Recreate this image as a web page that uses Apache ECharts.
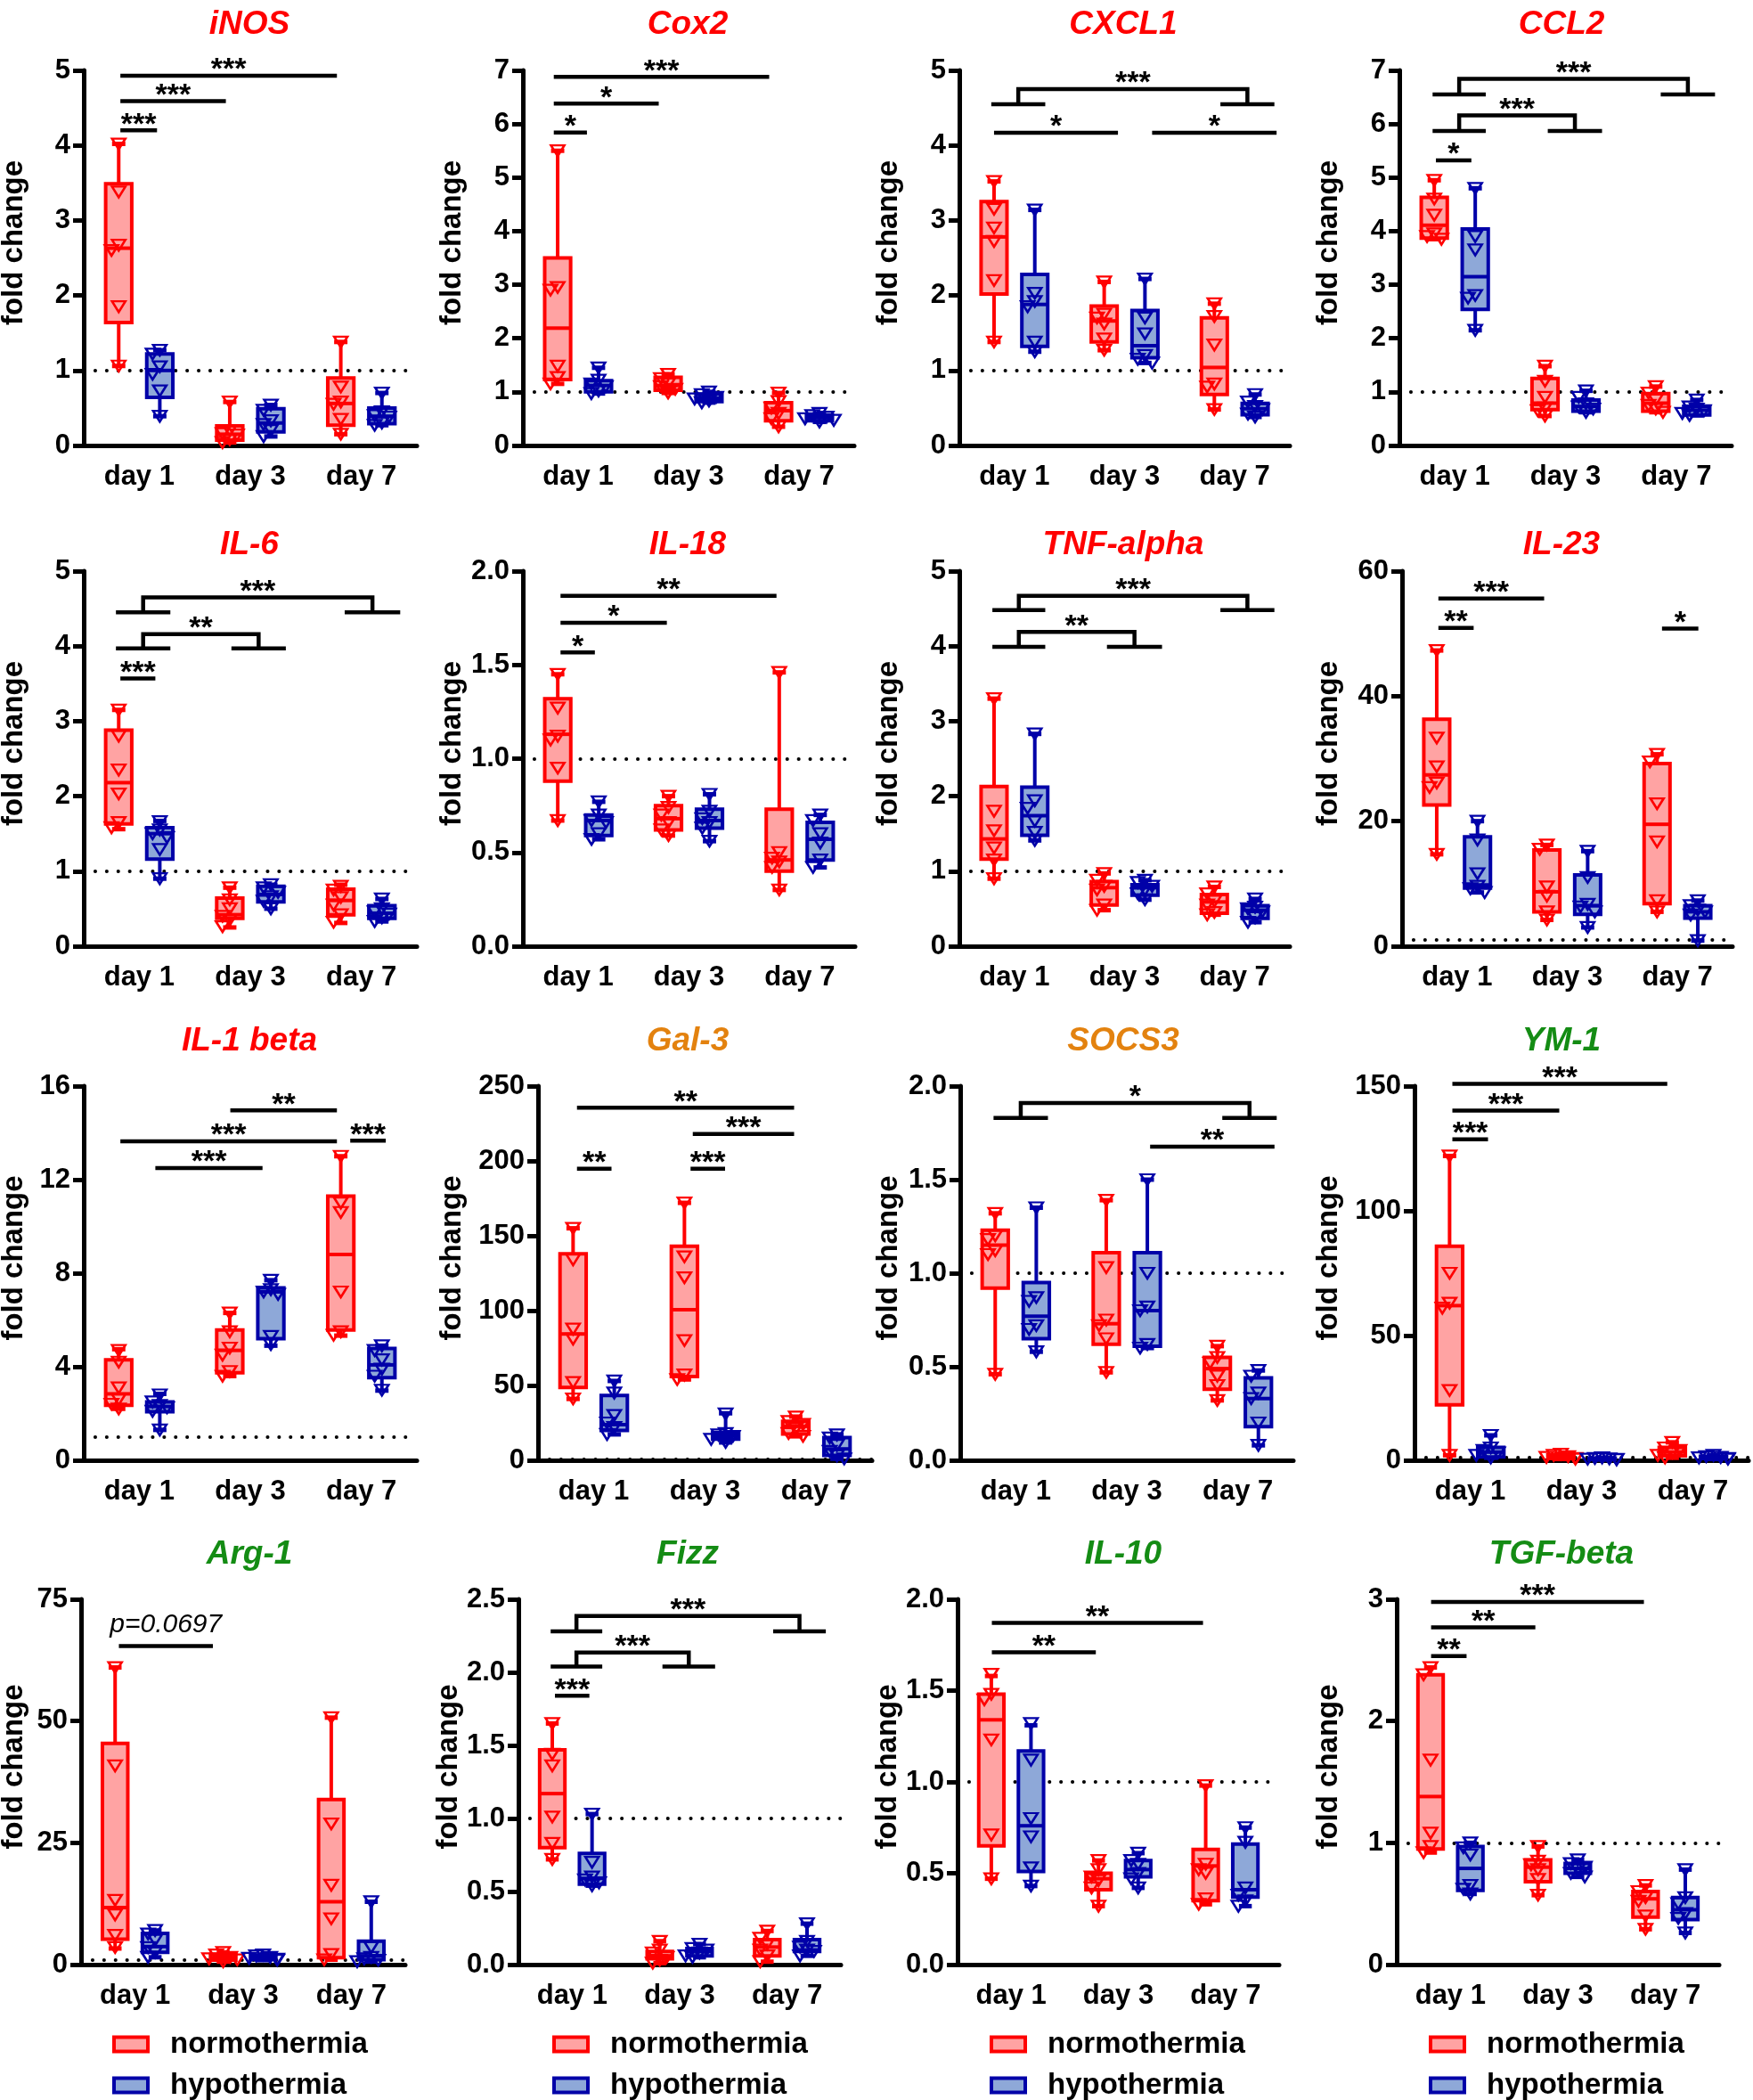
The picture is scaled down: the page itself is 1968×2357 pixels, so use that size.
<!DOCTYPE html>
<html>
<head>
<meta charset="utf-8">
<title>fold change - normothermia vs hypothermia</title>
<script src="https://cdn.jsdelivr.net/npm/echarts@6/dist/echarts.min.js"></script>
<style>
  html, body { margin: 0; padding: 0; background: #fff; }
  #chart { width: 1968px; height: 2357px; }
</style>
</head>
<body>
<div id="chart"></div>
<script>
var days = ['day 1', 'day 3', 'day 7']
var groups = ['normothermia', 'hypothermia']

// box rows are [min, Q1, median, Q3, max] for day 1, day 3, day 7
// point rows are the single animals of that day

// iNOS
var iNOSTicks = [0, 1, 2, 3, 4, 5]
var iNOSNormBox = [[1.06, 1.64, 2.63, 3.49, 4.02], [0.04, 0.07, 0.15, 0.26, 0.58], [0.15, 0.27, 0.56, 0.9, 1.38]]
var iNOSHypoBox = [[0.39, 0.64, 1.0, 1.22, 1.27], [0.12, 0.18, 0.3, 0.49, 0.54], [0.27, 0.29, 0.39, 0.5, 0.7]]
var iNOSNormPts = [[4.02, 3.38, 2.67, 2.6, 1.85, 1.06], [0.58, 0.2, 0.16, 0.14, 0.08, 0.04], [1.38, 0.78, 0.58, 0.55, 0.35, 0.15]]
var iNOSHypoPts = [[1.27, 1.22, 1.05, 0.95, 0.73, 0.39], [0.54, 0.47, 0.33, 0.28, 0.2, 0.12], [0.7, 0.45, 0.4, 0.38, 0.3, 0.27]]
var iNOSSig = [
    {x: [-0.17, 0.16], y: 4.2, text: '***'},
    {x: [-0.17, 0.78], y: 4.59, text: '***'},
    {x: [-0.17, 1.78], y: 4.93, text: '***'}
]

// Cox2
var cox2Ticks = [0, 1, 2, 3, 4, 5, 6, 7]
var cox2NormBox = [[1.15, 1.23, 2.19, 3.5, 5.5], [0.98, 1.03, 1.12, 1.27, 1.33], [0.35, 0.46, 0.65, 0.8, 0.98]]
var cox2HypoBox = [[0.97, 1.0, 1.12, 1.21, 1.45], [0.8, 0.82, 0.88, 0.96, 1.0], [0.44, 0.46, 0.52, 0.57, 0.6]]
var cox2NormPts = [[5.5, 2.95, 2.9, 1.48, 1.27, 1.15], [1.33, 1.25, 1.15, 1.1, 1.05, 0.98], [0.98, 0.82, 0.7, 0.6, 0.5, 0.35]]
var cox2HypoPts = [[1.45, 1.22, 1.15, 1.1, 1.02, 0.97], [1.0, 0.95, 0.9, 0.87, 0.83, 0.8], [0.6, 0.56, 0.53, 0.5, 0.47, 0.44]]
var cox2Sig = [
    {x: [-0.22, 0.08], y: 5.84, text: '*'},
    {x: [-0.22, 0.73], y: 6.38, text: '*'},
    {x: [-0.22, 1.73], y: 6.88, text: '***'}
]

// CXCL1
var cxcl1Ticks = [0, 1, 2, 3, 4, 5]
var cxcl1NormBox = [[1.38, 2.02, 2.78, 3.25, 3.52], [1.27, 1.38, 1.66, 1.86, 2.18], [0.48, 0.68, 1.04, 1.7, 1.89]]
var cxcl1HypoBox = [[1.25, 1.32, 1.88, 2.28, 3.14], [1.1, 1.17, 1.33, 1.8, 2.22], [0.38, 0.41, 0.49, 0.56, 0.68]]
var cxcl1NormPts = [[3.52, 3.15, 2.9, 2.72, 2.2, 1.38], [2.18, 1.75, 1.7, 1.62, 1.42, 1.27], [1.89, 1.72, 1.34, 0.82, 0.78, 0.48]]
var cxcl1HypoPts = [[3.14, 2.03, 1.92, 1.85, 1.38, 1.25], [2.22, 1.7, 1.49, 1.2, 1.15, 1.1], [0.68, 0.58, 0.52, 0.48, 0.42, 0.38]]
var cxcl1Sig = [
    {a: [-0.21, 0.28], b: [1.87, 2.36], y: 4.55, top: 4.75, text: '***'},
    {x: [-0.185, 0.94], y: 4.17, text: '*'},
    {x: [1.25, 2.38], y: 4.17, text: '*'}
]

// CCL2
var ccl2Ticks = [0, 1, 2, 3, 4, 5, 6, 7]
var ccl2NormBox = [[3.85, 3.87, 4.11, 4.63, 4.95], [0.55, 0.67, 0.79, 1.25, 1.48], [0.62, 0.64, 0.79, 0.97, 1.1]]
var ccl2HypoBox = [[2.15, 2.54, 3.15, 4.04, 4.8], [0.62, 0.64, 0.73, 0.85, 1.02], [0.56, 0.57, 0.66, 0.73, 0.85]]
var ccl2NormPts = [[4.95, 4.6, 4.3, 3.95, 3.9, 3.85], [1.48, 1.2, 0.9, 0.7, 0.65, 0.55], [1.1, 0.98, 0.85, 0.75, 0.68, 0.62]]
var ccl2HypoPts = [[4.8, 3.9, 3.65, 2.8, 2.75, 2.15], [1.02, 0.9, 0.78, 0.72, 0.68, 0.62], [0.85, 0.72, 0.68, 0.65, 0.6, 0.56]]
var ccl2Sig = [
    {a: [-0.2, 0.28], b: [1.86, 2.35], y: 6.55, top: 6.84, text: '***'},
    {a: [-0.2, 0.28], b: [0.84, 1.33], y: 5.87, top: 6.16, text: '***'},
    {x: [-0.17, 0.15], y: 5.32, text: '*'}
]

// IL-6
var il6Ticks = [0, 1, 2, 3, 4, 5]
var il6NormBox = [[1.56, 1.63, 2.18, 2.88, 3.15], [0.25, 0.37, 0.42, 0.64, 0.78], [0.31, 0.42, 0.61, 0.76, 0.82]]
var il6HypoBox = [[0.9, 1.16, 1.5, 1.58, 1.67], [0.5, 0.59, 0.69, 0.8, 0.82], [0.33, 0.37, 0.44, 0.54, 0.63]]
var il6NormPts = [[3.15, 2.8, 2.35, 2.03, 1.65, 1.58], [0.78, 0.62, 0.5, 0.4, 0.35, 0.26], [0.8, 0.75, 0.65, 0.55, 0.42, 0.32]]
var il6HypoPts = [[1.66, 1.55, 1.5, 1.45, 1.29, 0.9], [0.82, 0.78, 0.72, 0.66, 0.6, 0.5], [0.63, 0.5, 0.46, 0.43, 0.38, 0.33]]
var il6Sig = [
    {a: [-0.21, 0.28], b: [1.85, 2.35], y: 4.45, top: 4.65, text: '***'},
    {a: [-0.21, 0.28], b: [0.83, 1.32], y: 3.97, top: 4.16, text: '**'},
    {x: [-0.17, 0.145], y: 3.57, text: '***'}
]

// IL-18
var il18Ticks = [0, 0.5, 1, 1.5, 2]
var il18NormBox = [[0.67, 0.88, 1.13, 1.32, 1.45], [0.59, 0.62, 0.68, 0.75, 0.8], [0.3, 0.4, 0.46, 0.73, 1.46]]
var il18HypoBox = [[0.57, 0.59, 0.67, 0.7, 0.77], [0.56, 0.63, 0.67, 0.73, 0.81], [0.42, 0.46, 0.57, 0.66, 0.7]]
var il18NormPts = [[1.45, 1.27, 1.12, 1.1, 0.95, 0.67], [0.8, 0.74, 0.7, 0.66, 0.62, 0.59], [1.46, 0.5, 0.47, 0.45, 0.42, 0.3]]
var il18HypoPts = [[0.77, 0.7, 0.67, 0.66, 0.6, 0.57], [0.81, 0.72, 0.68, 0.66, 0.63, 0.56], [0.7, 0.67, 0.6, 0.55, 0.46, 0.42]]
var il18Sig = [
    {x: [-0.16, 0.15], y: 1.567, text: '*'},
    {x: [-0.16, 0.8], y: 1.725, text: '*'},
    {x: [-0.16, 1.79], y: 1.868, text: '**'}
]

// TNF-alpha
var tnfTicks = [0, 1, 2, 3, 4, 5]
var tnfNormBox = [[0.9, 1.16, 1.43, 2.13, 3.3], [0.48, 0.55, 0.78, 0.86, 0.97], [0.42, 0.44, 0.59, 0.69, 0.79]]
var tnfHypoBox = [[1.41, 1.48, 1.74, 2.12, 2.83], [0.62, 0.68, 0.78, 0.82, 0.88], [0.32, 0.37, 0.48, 0.54, 0.63]]
var tnfNormPts = [[3.3, 1.8, 1.54, 1.31, 1.15, 0.9], [0.97, 0.88, 0.8, 0.75, 0.55, 0.48], [0.79, 0.7, 0.6, 0.55, 0.45, 0.42]]
var tnfHypoPts = [[2.83, 1.94, 1.84, 1.67, 1.52, 1.41], [0.88, 0.85, 0.8, 0.75, 0.7, 0.62], [0.63, 0.52, 0.5, 0.46, 0.38, 0.32]]
var tnfSig = [
    {a: [-0.2, 0.28], b: [1.87, 2.36], y: 4.48, top: 4.67, text: '***'},
    {a: [-0.2, 0.28], b: [0.84, 1.34], y: 3.99, top: 4.19, text: '**'}
]

// IL-23
var il23Ticks = [0, 20, 40, 60]
var il23NormBox = [[14.7, 22.6, 27.4, 36.3, 47.3], [4.2, 5.5, 8.7, 15.4, 16.2], [5.5, 6.8, 19.5, 29.2, 30.7]]
var il23HypoBox = [[8.6, 9.3, 9.8, 17.5, 20], [3, 5.1, 6.5, 11.4, 15.2], [0.9, 4.5, 5.5, 6.5, 7.3]]
var il23NormPts = [[47.3, 33.3, 28.7, 26.1, 25.4, 14.7], [16.2, 15.5, 9.5, 8, 5.5, 4.2], [30.7, 29.5, 22.8, 16.7, 7.3, 5.5]]
var il23HypoPts = [[20, 17, 11.6, 9.6, 9.2, 8.6], [15.2, 11, 6.7, 6.3, 5.5, 3], [7.3, 6.5, 5.8, 5.5, 5.0, 0.9]]
var il23Sig = [
    {x: [-0.17, 0.79], y: 55.6, text: '***'},
    {x: [-0.17, 0.15], y: 50.9, text: '**'},
    {x: [1.86, 2.19], y: 50.8, text: '*'}
]

// IL-1 beta
var il1bTicks = [0, 4, 8, 12, 16]
var il1bNormBox = [[2.2, 2.35, 2.84, 4.3, 4.75], [3.6, 3.74, 4.7, 5.57, 6.3], [5.33, 5.57, 8.8, 11.3, 13]]
var il1bHypoBox = [[1.3, 2.08, 2.3, 2.5, 2.84], [4.9, 5.2, 7.2, 7.37, 7.7], [2.98, 3.53, 4.08, 4.78, 4.9]]
var il1bNormPts = [[4.7, 4.2, 3.1, 2.6, 2.4, 2.2], [6.3, 5.5, 4.8, 4.5, 3.8, 3.6], [13, 11, 10.6, 7.2, 5.5, 5.35]]
var il1bHypoPts = [[2.8, 2.5, 2.35, 2.25, 2.1, 1.3], [7.7, 7.3, 7.2, 7.1, 5.3, 4.95], [4.9, 4.7, 4.3, 3.9, 3.6, 3.0]]
var il1bSig = [
    {x: [0.82, 1.78], y: 14.96, text: '**'},
    {x: [-0.17, 1.78], y: 13.64, text: '***'},
    {x: [1.9, 2.22], y: 13.67, text: '***'},
    {x: [0.145, 1.11], y: 12.5, text: '***'}
]

// Gal-3
var gal3Ticks = [0, 50, 100, 150, 200, 250]
var gal3NormBox = [[41, 48.7, 84.4, 138, 155], [54, 56, 100.6, 143, 172], [16, 17.5, 22.7, 26, 29.2]]
var gal3HypoBox = [[17.3, 19.9, 23.8, 43.3, 53], [11.9, 14.1, 16.2, 18.4, 31.4], [1, 3.2, 7.6, 15.2, 17.3]]
var gal3NormPts = [[155, 134, 87.7, 81, 52, 41], [172, 136, 122, 80, 57, 54], [29, 26, 24, 21, 18, 16]]
var gal3HypoPts = [[53, 45, 30, 25, 22, 17.3], [31, 18, 17, 16, 14, 12], [17, 15, 10, 6, 3, 1]]
var gal3Sig = [
    {x: [-0.15, 1.8], y: 235.5, text: '**'},
    {x: [0.89, 1.8], y: 218, text: '***'},
    {x: [-0.15, 0.16], y: 194.8, text: '**'},
    {x: [0.87, 1.18], y: 194.8, text: '***'}
]

// SOCS3
var socs3Ticks = [0, 0.5, 1, 1.5, 2]
var socs3NormBox = [[0.46, 0.92, 1.15, 1.23, 1.32], [0.47, 0.62, 0.73, 1.11, 1.39], [0.32, 0.38, 0.49, 0.55, 0.61]]
var socs3HypoBox = [[0.58, 0.65, 0.77, 0.95, 1.35], [0.6, 0.61, 0.8, 1.11, 1.5], [0.08, 0.18, 0.33, 0.44, 0.48]]
var socs3NormPts = [[1.32, 1.2, 1.18, 1.12, 1.1, 0.46], [1.39, 1.03, 0.75, 0.72, 0.65, 0.47], [0.61, 0.55, 0.52, 0.45, 0.4, 0.32]]
var socs3HypoPts = [[1.35, 0.87, 0.85, 0.72, 0.7, 0.58], [1.5, 1.0, 0.82, 0.8, 0.62, 0.6], [0.48, 0.45, 0.36, 0.33, 0.2, 0.08]]
var socs3Sig = [
    {a: [-0.2, 0.29], b: [1.86, 2.35], y: 1.83, top: 1.91, text: '*'},
    {x: [1.21, 2.33], y: 1.676, text: '**'}
]

// YM-1
var ym1Ticks = [0, 50, 100, 150]
var ym1NormBox = [[2, 22.2, 62, 85.8, 122], [0.5, 0.7, 1.35, 2.1, 2.5], [1, 1.75, 3.3, 5.2, 7.2]]
var ym1HypoBox = [[1, 1.3, 3.3, 5.2, 10], [0.3, 0.38, 0.55, 0.85, 1], [0.5, 0.72, 1.1, 1.6, 2]]
var ym1NormPts = [[122, 75, 63, 61, 28, 2], [2.5, 2, 1.5, 1.2, 0.8, 0.5], [7.2, 5, 4, 3, 2, 1]]
var ym1HypoPts = [[10, 5, 4, 3, 2, 1], [1, 0.8, 0.6, 0.5, 0.4, 0.3], [2, 1.5, 1.2, 1, 0.8, 0.5]]
var ym1Sig = [
    {x: [-0.16, 1.77], y: 150.9, text: '***'},
    {x: [-0.16, 0.8], y: 140.2, text: '***'},
    {x: [-0.16, 0.16], y: 128.7, text: '***'}
]

// Arg-1
var arg1Ticks = [0, 25, 50, 75]
var arg1NormBox = [[3.3, 5.2, 11.7, 45.4, 61], [0.6, 0.9, 1.35, 2.1, 2.5], [1.0, 1.4, 12.9, 33.9, 50.7]]
var arg1HypoBox = [[1.5, 2.5, 3.7, 6.4, 7.0], [0.9, 1.05, 1.4, 1.85, 2], [0.6, 1.0, 1.8, 4.8, 12.9]]
var arg1NormPts = [[61, 40.8, 13.2, 10.2, 6, 3.5], [2.5, 2, 1.5, 1.2, 1, 0.6], [50.7, 28.9, 16.3, 9.4, 2.1, 1.0]]
var arg1HypoPts = [[7, 6.3, 5, 3.5, 2.5, 1.5], [2, 1.8, 1.5, 1.3, 1.1, 0.9], [12.9, 3.5, 1.5, 1.2, 0.9, 0.6]]
var arg1Sig = [
    {x: [-0.15, 0.72], y: 65.4, text: 'p=0.0697', italic: true}
]

// Fizz
var fizzTicks = [0, 0.5, 1, 1.5, 2, 2.5]
var fizzNormBox = [[0.72, 0.8, 1.17, 1.47, 1.65], [0.01, 0.04, 0.06, 0.09, 0.16], [0.02, 0.06, 0.12, 0.17, 0.23]]
var fizzHypoBox = [[0.54, 0.55, 0.59, 0.76, 1.03], [0.05, 0.06, 0.09, 0.11, 0.14], [0.06, 0.09, 0.1, 0.17, 0.28]]
var fizzNormPts = [[1.65, 1.44, 1.36, 1.01, 0.83, 0.72], [0.16, 0.1, 0.08, 0.05, 0.03, 0.01], [0.23, 0.18, 0.14, 0.1, 0.06, 0.02]]
var fizzHypoPts = [[1.03, 0.7, 0.6, 0.58, 0.56, 0.54], [0.14, 0.11, 0.1, 0.08, 0.06, 0.05], [0.28, 0.16, 0.12, 0.1, 0.09, 0.06]]
var fizzSig = [
    {a: [-0.2, 0.28], b: [1.87, 2.36], y: 2.28, top: 2.385, text: '***'},
    {a: [-0.2, 0.28], b: [0.84, 1.33], y: 2.04, top: 2.135, text: '***'},
    {x: [-0.16, 0.16], y: 1.84, text: '***'}
]

// IL-10
var il10Ticks = [0, 0.5, 1, 1.5, 2]
var il10NormBox = [[0.47, 0.65, 1.34, 1.48, 1.58], [0.32, 0.41, 0.47, 0.5, 0.57], [0.33, 0.35, 0.54, 0.63, 0.98]]
var il10HypoBox = [[0.43, 0.51, 0.76, 1.17, 1.31], [0.42, 0.48, 0.52, 0.57, 0.61], [0.32, 0.37, 0.41, 0.66, 0.75]]
var il10NormPts = [[1.59, 1.48, 1.45, 1.23, 0.71, 0.47], [0.57, 0.52, 0.48, 0.46, 0.42, 0.32], [0.98, 0.55, 0.52, 0.5, 0.36, 0.33]]
var il10HypoPts = [[1.32, 1.12, 0.8, 0.7, 0.53, 0.43], [0.61, 0.57, 0.55, 0.5, 0.47, 0.42], [0.75, 0.67, 0.42, 0.38, 0.35, 0.32]]
var il10Sig = [
    {x: [-0.18, 0.79], y: 1.71, text: '**'},
    {x: [-0.18, 1.79], y: 1.871, text: '**'}
]

// TGF-beta
var tgfTicks = [0, 1, 2, 3]
var tgfNormBox = [[0.92, 0.95, 1.38, 2.38, 2.44], [0.57, 0.68, 0.8, 0.86, 0.97], [0.29, 0.39, 0.54, 0.6, 0.65]]
var tgfHypoBox = [[0.58, 0.61, 0.79, 0.97, 1.0], [0.72, 0.75, 0.79, 0.83, 0.86], [0.26, 0.37, 0.45, 0.55, 0.78]]
var tgfNormPts = [[2.44, 2.38, 1.68, 1.08, 0.97, 0.92], [0.97, 0.85, 0.82, 0.78, 0.7, 0.57], [0.65, 0.6, 0.55, 0.52, 0.4, 0.29]]
var tgfHypoPts = [[1.0, 0.96, 0.9, 0.65, 0.62, 0.58], [0.86, 0.83, 0.8, 0.78, 0.75, 0.72], [0.78, 0.55, 0.5, 0.42, 0.38, 0.26]]
var tgfSig = [
    {x: [-0.18, 0.15], y: 2.533, text: '**'},
    {x: [-0.18, 0.79], y: 2.77, text: '**'},
    {x: [-0.18, 1.8], y: 2.978, text: '***'}
]

var RED = '#ff0000', PINK = '#ffa3a3', BLUE = '#0000a8', LIGHTBLUE = '#8ea8d8'
var T_RED = '#ff0000', T_ORANGE = '#e3820f', T_GREEN = '#148c14'
var FONT = '"Liberation Sans", Arial, Helvetica, sans-serif'

var panels = [
    {title: 'iNOS', color: T_RED, ticks: iNOSTicks, box: [iNOSNormBox, iNOSHypoBox], pts: [iNOSNormPts, iNOSHypoPts], sig: iNOSSig},
    {title: 'Cox2', color: T_RED, ticks: cox2Ticks, box: [cox2NormBox, cox2HypoBox], pts: [cox2NormPts, cox2HypoPts], sig: cox2Sig},
    {title: 'CXCL1', color: T_RED, ticks: cxcl1Ticks, box: [cxcl1NormBox, cxcl1HypoBox], pts: [cxcl1NormPts, cxcl1HypoPts], sig: cxcl1Sig},
    {title: 'CCL2', color: T_RED, ticks: ccl2Ticks, box: [ccl2NormBox, ccl2HypoBox], pts: [ccl2NormPts, ccl2HypoPts], sig: ccl2Sig},
    {title: 'IL-6', color: T_RED, ticks: il6Ticks, box: [il6NormBox, il6HypoBox], pts: [il6NormPts, il6HypoPts], sig: il6Sig},
    {title: 'IL-18', color: T_RED, ticks: il18Ticks, box: [il18NormBox, il18HypoBox], pts: [il18NormPts, il18HypoPts], sig: il18Sig},
    {title: 'TNF-alpha', color: T_RED, ticks: tnfTicks, box: [tnfNormBox, tnfHypoBox], pts: [tnfNormPts, tnfHypoPts], sig: tnfSig},
    {title: 'IL-23', color: T_RED, ticks: il23Ticks, box: [il23NormBox, il23HypoBox], pts: [il23NormPts, il23HypoPts], sig: il23Sig},
    {title: 'IL-1 beta', color: T_RED, ticks: il1bTicks, box: [il1bNormBox, il1bHypoBox], pts: [il1bNormPts, il1bHypoPts], sig: il1bSig},
    {title: 'Gal-3', color: T_ORANGE, ticks: gal3Ticks, box: [gal3NormBox, gal3HypoBox], pts: [gal3NormPts, gal3HypoPts], sig: gal3Sig},
    {title: 'SOCS3', color: T_ORANGE, ticks: socs3Ticks, box: [socs3NormBox, socs3HypoBox], pts: [socs3NormPts, socs3HypoPts], sig: socs3Sig},
    {title: 'YM-1', color: T_GREEN, ticks: ym1Ticks, box: [ym1NormBox, ym1HypoBox], pts: [ym1NormPts, ym1HypoPts], sig: ym1Sig},
    {title: 'Arg-1', color: T_GREEN, ticks: arg1Ticks, box: [arg1NormBox, arg1HypoBox], pts: [arg1NormPts, arg1HypoPts], sig: arg1Sig},
    {title: 'Fizz', color: T_GREEN, ticks: fizzTicks, box: [fizzNormBox, fizzHypoBox], pts: [fizzNormPts, fizzHypoPts], sig: fizzSig},
    {title: 'IL-10', color: T_GREEN, ticks: il10Ticks, box: [il10NormBox, il10HypoBox], pts: [il10NormPts, il10HypoPts], sig: il10Sig},
    {title: 'TGF-beta', color: T_GREEN, ticks: tgfTicks, box: [tgfNormBox, tgfHypoBox], pts: [tgfNormPts, tgfHypoPts], sig: tgfSig}
]

// layout: plot frame [left, right] of each panel, rows, titles, legends
var frames = [
    [94, 468], [587, 959], [1077, 1448], [1571, 1944],
    [94, 468], [587, 960], [1077, 1448], [1574, 1945],
    [94, 468], [604, 979], [1078, 1452], [1588, 1963],
    [91, 455], [582, 944], [1075, 1436], [1568, 1930]
]
var rowTop = [79, 641, 1219, 1795]
var rowBottom = [500, 1062, 1639, 2205]
var titleY = [28, 612, 1169, 1745]
var titleX = [280, 772, 1261, 1753]
var nameX = [16, 508, 998, 1492]
var legendX = [126, 620, 1111, 1604]

var SLOT = [-0.185, 0.185]   // box centre inside one day band
var BOX_W = 0.235, CAP_W = 0.12

function boxRenderer(g) {
    var stroke = g ? BLUE : RED, fill = g ? LIGHTBLUE : PINK
    return function (params, api) {
        var day = api.value(0)
        var band = api.size([1, 0])[0]
        var x = api.coord([day, 0])[0] + SLOT[g] * band
        var half = BOX_W * band / 2, cap = CAP_W * band / 2
        var y = [1, 2, 3, 4, 5].map(function (d) { return api.coord([day, api.value(d)])[1] })
        var ls = {stroke: stroke, lineWidth: 4}
        var cs = {stroke: stroke, lineWidth: 5}
        return {
            type: 'group',
            children: [
                {type: 'line', shape: {x1: x, y1: y[4], x2: x, y2: y[3]}, style: ls},
                {type: 'line', shape: {x1: x, y1: y[1], x2: x, y2: y[0]}, style: ls},
                {type: 'line', shape: {x1: x - cap, y1: y[4], x2: x + cap, y2: y[4]}, style: cs},
                {type: 'line', shape: {x1: x - cap, y1: y[0], x2: x + cap, y2: y[0]}, style: cs},
                {type: 'rect', shape: {x: x - half, y: y[3], width: 2 * half, height: y[1] - y[3]}, style: {fill: fill, stroke: stroke, lineWidth: 4}},
                {type: 'line', shape: {x1: x - half, y1: y[2], x2: x + half, y2: y[2]}, style: ls}
            ]
        }
    }
}

function sigRenderer(sig) {
    return function (params, api) {
        var s = sig[params.dataIndex]
        var c0 = api.coord([0, 0])[0]
        var band = api.size([1, 0])[0]
        function X(u) { return c0 + u * band }
        function Y(v) { return api.coord([0, v])[1] }
        var ls = {stroke: '#000', lineWidth: 4.5, fill: null}
        var children = [], tx, ty
        if (s.a) {
            var am = (s.a[0] + s.a[1]) / 2, bm = (s.b[0] + s.b[1]) / 2
            children.push({type: 'line', shape: {x1: X(s.a[0]), y1: Y(s.y), x2: X(s.a[1]), y2: Y(s.y)}, style: ls})
            children.push({type: 'line', shape: {x1: X(s.b[0]), y1: Y(s.y), x2: X(s.b[1]), y2: Y(s.y)}, style: ls})
            children.push({type: 'polyline', shape: {points: [[X(am), Y(s.y)], [X(am), Y(s.top)], [X(bm), Y(s.top)], [X(bm), Y(s.y)]]}, style: ls})
            tx = X((am + bm) / 2)
            ty = Y(s.top)
        } else {
            children.push({type: 'line', shape: {x1: X(s.x[0]), y1: Y(s.y), x2: X(s.x[1]), y2: Y(s.y)}, style: ls})
            tx = X((s.x[0] + s.x[1]) / 2)
            ty = Y(s.y)
        }
        children.push({
            type: 'text',
            style: {
                text: s.text, x: tx, y: ty - (s.italic ? 24 : 6),
                align: 'center', verticalAlign: 'middle', textAlign: 'center', textVerticalAlign: 'middle',
                font: s.italic ? 'italic 30px ' + FONT : 'bold 34px ' + FONT,
                fill: '#000'
            }
        })
        return {type: 'group', children: children}
    }
}

// spread close triangles side by side, like the original dot layout
function swarm(vals, pxPerUnit) {
    var cand = [0, -0.065, 0.065, -0.13, 0.13]
    var placed = [], off = []
    var order = vals.map(function (v, i) { return i }).sort(function (a, b) { return vals[b] - vals[a] })
    order.forEach(function (i) {
        var y = vals[i] * pxPerUnit, k
        for (k = 0; k < cand.length - 1; k++) {
            var free = placed.every(function (p) { return Math.abs(p.y - y) > 9 || Math.abs(p.x - cand[k]) > 0.05 })
            if (free) break
        }
        placed.push({y: y, x: cand[k]})
        off[i] = cand[k]
    })
    return off
}

var option = {
    animation: false,
    backgroundColor: '#fff',
    title: [], grid: [], xAxis: [], yAxis: [], series: [], legend: []
}

panels.forEach(function (p, k) {
    var r = Math.floor(k / 4), c = k % 4
    var left = frames[k][0], right = frames[k][1]
    var top = rowTop[r], bottom = rowBottom[r]
    var yMax = p.ticks[p.ticks.length - 1]
    var step = p.ticks[1] - p.ticks[0]
    var dec = step % 1 ? 1 : 0
    var pxPerUnit = (bottom - top) / yMax

    option.title.push({
        text: p.title, left: titleX[c], top: titleY[r], padding: 0,
        textAlign: 'center', textVerticalAlign: 'middle',
        textStyle: {color: p.color, fontFamily: FONT, fontSize: 37, fontWeight: 'bold', fontStyle: 'italic'}
    })
    option.grid.push({left: left, top: top, width: right - left, height: bottom - top, outerBoundsMode: 'none'})
    option.xAxis.push({
        type: 'category', gridIndex: k, data: days,
        axisLine: {onZero: false, lineStyle: {color: '#000', width: 5}},
        axisTick: {show: false},
        axisLabel: {color: '#000', fontFamily: FONT, fontSize: 31, fontWeight: 'bold', margin: 20}
    })
    option.xAxis.push({type: 'value', gridIndex: k, min: -0.5, max: 2.5, show: false})
    option.yAxis.push({
        type: 'value', gridIndex: k, min: p.ticks[0], max: yMax, interval: step,
        name: 'fold change', nameLocation: 'middle', nameGap: left - nameX[c] - 16.5,
        nameTextStyle: {color: '#000', fontFamily: FONT, fontSize: 33, fontWeight: 'bold', padding: [0, 0, 0, 34]},
        axisLine: {show: true, onZero: false, lineStyle: {color: '#000', width: 5}},
        axisTick: {show: true, length: 12, lineStyle: {color: '#000', width: 5}},
        splitLine: {show: false},
        axisLabel: {
            color: '#000', fontFamily: FONT, fontSize: 31, fontWeight: 'bold', margin: 15,
            formatter: function (v) { return v.toFixed(dec) }
        }
    })

    groups.forEach(function (gName, g) {
        option.series.push({
            type: 'custom', name: gName, xAxisIndex: 2 * k, yAxisIndex: k, z: 2,
            renderItem: boxRenderer(g),
            encode: {x: 0, y: [1, 2, 3, 4, 5]},
            data: p.box[g].map(function (b, i) { return [i].concat(b) })
        })
        var pts = []
        p.pts[g].forEach(function (vals, i) {
            var off = swarm(vals, pxPerUnit)
            vals.forEach(function (v, j) { pts.push([i + SLOT[g] + off[j], v]) })
        })
        var sc = {
            type: 'scatter', name: gName, xAxisIndex: 2 * k + 1, yAxisIndex: k, z: 4,
            symbol: 'triangle', symbolRotate: 180, symbolSize: [15, 12],
            itemStyle: {color: 'rgba(255,255,255,0)', borderColor: g ? BLUE : RED, borderWidth: 2.5, opacity: 1},
            data: pts
        }
        if (g === 0) {
            // dotted baseline at fold change = 1
            sc.markLine = {
                silent: true, symbol: ['none', 'none'], z: 1, label: {show: false},
                lineStyle: {color: '#000', width: 4, type: [0.1, 12.8], cap: 'round'},
                data: [{yAxis: 1}]
            }
        }
        option.series.push(sc)
    })

    option.series.push({
        type: 'custom', xAxisIndex: 2 * k, yAxisIndex: k, z: 5, silent: true,
        renderItem: sigRenderer(p.sig),
        data: p.sig.map(function (s) { return [0, s.y] })
    })
})

legendX.forEach(function (lx) {
    option.legend.push({
        left: lx, top: 2278, orient: 'vertical', padding: 0,
        itemWidth: 38, itemHeight: 16, itemGap: 13, selectedMode: false, icon: 'rect',
        data: [
            {name: 'normothermia', icon: 'rect', itemStyle: {color: PINK, borderColor: RED, borderWidth: 4}},
            {name: 'hypothermia', icon: 'rect', itemStyle: {color: LIGHTBLUE, borderColor: BLUE, borderWidth: 4}}
        ],
        textStyle: {color: '#000', fontFamily: FONT, fontSize: 33, fontWeight: 'bold', padding: [0, 0, 0, 20]}
    })
})

var myChart = echarts.init(document.getElementById('chart'))
myChart.setOption(option)
</script>
</body>
</html>
